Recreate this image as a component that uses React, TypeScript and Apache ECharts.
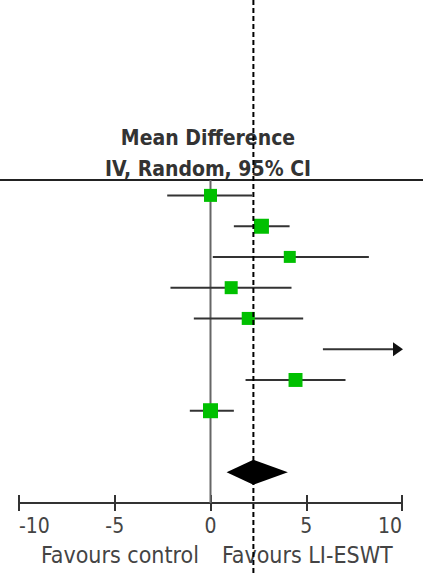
import React, { useEffect, useRef } from "react";
import * as echarts from "echarts";

// Study rows (top to bottom); row 8 is blank, row 9 is the pooled total
const meanDiff = [0.0, 2.66, 4.14, 1.08, 1.97, 12.5, 4.44, 0.0];
const ciLow = [-2.26, 1.22, 0.12, -2.09, -0.87, 5.87, 1.83, -1.08];
const ciHigh = [2.18, 4.13, 8.27, 4.23, 4.84, 19.1, 7.05, 1.22];
const weights = [12.5, 16.6, 10.6, 12.5, 12.5, 4.4, 14.4, 16.6];
const pooledMean = 2.24;
const pooledLow = 0.84;
const pooledHigh = 4.04;
const pooledRow = 9;
const axisMin = -10;
const axisMax = 10;
const axisInterval = 5;
const headerLines = ["Mean Difference", "IV, Random, 95% CI"];
const favourLeft = "Favours control";
const favourRight = "Favours LI-ESWT";

const FONT = "DejaVu Sans Condensed, DejaVu Sans";

export default function App() {
  const ref = useRef<HTMLDivElement>(null);
  useEffect(() => {
    document.body.style.margin = "0";
    const chart = echarts.init(ref.current!, null, { renderer: "svg" });
    const studyData = meanDiff.map((m, i) => [m, i, ciLow[i], ciHigh[i], weights[i]]);
    chart.setOption({
      animation: false,
      backgroundColor: "#ffffff",
      grid: { left: 19, right: 25, top: 180, bottom: 70, containLabel: false },
      xAxis: [
        {
          type: "value",
          min: axisMin,
          max: axisMax,
          interval: axisInterval,
          position: "bottom",
          splitLine: { show: false },
          axisLine: { show: true, onZero: false, lineStyle: { color: "#333", width: 2 } },
          axisTick: { show: true, length: 8, lineStyle: { color: "#333", width: 2 } },
          axisLabel: {
            fontFamily: FONT,
            fontSize: 21,
            color: "#444",
            margin: 12,
            alignMinLabel: "left",
            alignMaxLabel: "right",
          },
        },
        {
          type: "value",
          min: axisMin,
          max: axisMax,
          interval: axisInterval,
          position: "bottom",
          offset: 0,
          splitLine: { show: false },
          axisLine: { show: false, onZero: false },
          axisTick: { show: true, inside: true, length: 8, lineStyle: { color: "#333", width: 2 } },
          axisLabel: { show: false },
        },
      ],
      yAxis: {
        type: "value",
        inverse: true,
        min: -0.5,
        max: 10,
        show: false,
        splitLine: { show: false },
      },
      graphic: [
        {
          type: "text",
          z: 1,
          x: 208,
          y: 138,
          style: {
            text: headerLines[0],
            fontFamily: FONT,
            fontWeight: "bold",
            fontSize: 21,
            fill: "#333",
            align: "center",
            verticalAlign: "middle",
          },
        },
        {
          type: "text",
          z: 1,
          x: 208,
          y: 169,
          style: {
            text: headerLines[1],
            fontFamily: FONT,
            fontWeight: "bold",
            fontSize: 21,
            fill: "#333",
            align: "center",
            verticalAlign: "middle",
          },
        },
        {
          type: "text",
          z: 1,
          x: 199,
          y: 555,
          style: {
            text: favourLeft,
            fontFamily: FONT,
            fontSize: 23,
            fill: "#444",
            align: "right",
            verticalAlign: "middle",
          },
        },
        {
          type: "text",
          z: 1,
          x: 222,
          y: 555,
          style: {
            text: favourRight,
            fontFamily: FONT,
            fontSize: 23,
            fill: "#444",
            align: "left",
            verticalAlign: "middle",
          },
        },
      ],
      series: [
        {
          type: "custom",
          name: "frame",
          z: 2,
          clip: false,
          data: [[0, -0.5, 10]],
          renderItem: (params: any, api: any) => {
            const top = api.coord([api.value(0), api.value(1)]);
            const bot = api.coord([api.value(0), api.value(2)]);
            return {
              type: "group",
              children: [
                {
                  type: "line",
                  shape: { x1: 0, y1: top[1], x2: api.getWidth() - 4, y2: top[1] },
                  style: { stroke: "#222", lineWidth: 2 },
                },
                {
                  type: "line",
                  shape: { x1: top[0], y1: top[1], x2: bot[0], y2: bot[1] },
                  style: { stroke: "#666", lineWidth: 2 },
                },
              ],
            };
          },
        },
        {
          type: "custom",
          name: "studies",
          z: 3,
          clip: false,
          data: studyData,
          renderItem: (params: any, api: any) => {
            const m = api.value(0);
            const y = api.value(1);
            const lo = api.value(2);
            const hi = api.value(3);
            const w = api.value(4);
            const p1 = api.coord([Math.max(lo, axisMin), y]);
            const p2 = api.coord([Math.min(hi, axisMax), y]);
            const children: any[] = [];
            const arrow = hi > axisMax;
            children.push({
              type: "line",
              shape: { x1: p1[0], y1: p1[1], x2: arrow ? p2[0] - 6 : p2[0], y2: p2[1] },
              style: { stroke: "#333", lineWidth: 2 },
            });
            if (arrow) {
              children.push({
                type: "polygon",
                shape: {
                  points: [
                    [p2[0] + 1, p2[1]],
                    [p2[0] - 9, p2[1] - 7],
                    [p2[0] - 9, p2[1] + 7],
                  ],
                },
                style: { fill: "#111" },
              });
            }
            if (m >= axisMin && m <= axisMax) {
              const c = api.coord([m, y]);
              const s = Math.sqrt(w) * 3.68;
              children.push({
                type: "rect",
                shape: { x: c[0] - s / 2, y: c[1] - s / 2, width: s, height: s },
                style: { fill: "#00c000" },
              });
            }
            return { type: "group", children };
          },
        },
        {
          type: "custom",
          name: "pooled",
          z: 10,
          clip: false,
          data: [[pooledMean, pooledRow, pooledLow, pooledHigh]],
          renderItem: (params: any, api: any) => {
            const c = api.coord([api.value(0), api.value(1)]);
            const l = api.coord([api.value(2), api.value(1)]);
            const r = api.coord([api.value(3), api.value(1)]);
            const h = 12.5;
            return {
              type: "group",
              children: [
                {
                  type: "polygon",
                  shape: {
                    points: [
                      [l[0], l[1]],
                      [c[0], c[1] - h],
                      [r[0], r[1]],
                      [c[0], c[1] + h],
                    ],
                  },
                  style: { fill: "#000" },
                },
                {
                  type: "line",
                  shape: { x1: c[0], y1: 0, x2: c[0], y2: api.getHeight() },
                  style: { stroke: "#000", lineWidth: 2, lineDash: [5, 3] },
                },
              ],
            };
          },
        },
      ],
    });
    return () => chart.dispose();
  }, []);
  return <div ref={ref} style={{ width: 427, height: 573, position: "fixed", left: 0, top: 0 }} />;
}
